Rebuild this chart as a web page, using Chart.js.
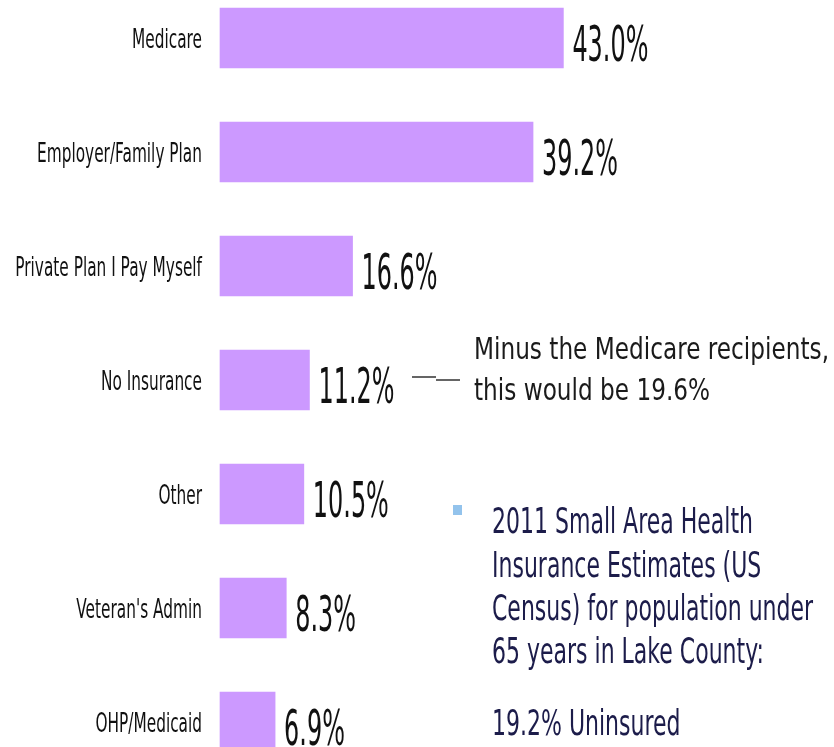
<!DOCTYPE html>
<html>
<head>
<meta charset="utf-8">
<script src="https://cdn.jsdelivr.net/npm/chart.js@4/dist/chart.umd.min.js"></script>
<style>
  html, body { margin: 0; padding: 0; background: #fff; overflow: hidden; }
  #wrap { width: 834px; height: 747px; position: relative; }
</style>
</head>
<body>
<div id="wrap"><canvas id="myChart"></canvas></div>
<script>
const categories = ['Medicare', 'Employer/Family Plan', 'Private Plan I Pay Myself', 'No Insurance', 'Other', "Veteran's Admin", 'OHP/Medicaid'];
const percents = [43.0, 39.2, 16.6, 11.2, 10.5, 8.3, 6.9];
const noteLines = ['Minus the Medicare recipients,', 'this would be 19.6%'];
const censusLines = ['2011 Small Area Health', 'Insurance Estimates (US', 'Census) for population under', '65 years in Lake County:', '19.2% Uninsured'];

const FONT = '"DejaVu Sans", Verdana, sans-serif';

// squeeze factor so a string at a given size comes out at the width seen in the picture
function fitScale(ctx, text, size, width) {
    ctx.font = size + 'px ' + FONT;
    return width / ctx.measureText(text).width;
}

function drawText(ctx, text, x, y, size, sx, align, color) {
    ctx.save();
    ctx.translate(x, y);
    ctx.scale(sx, 1);
    ctx.font = size + 'px ' + FONT;
    ctx.textAlign = align;
    ctx.textBaseline = 'alphabetic';
    ctx.fillStyle = color;
    ctx.fillText(text, 0, 0);
    ctx.restore();
}

const textPlugin = {
    id: 'textPlugin',
    beforeDraw(chart) {
        const c = chart.ctx;
        c.save();
        c.fillStyle = '#fff';
        c.fillRect(0, 0, chart.width, chart.height);
        c.restore();
    },
    afterDraw(chart) {
        const ctx = chart.ctx;
        const y = chart.scales.y;
        const meta = chart.getDatasetMeta(0);

        const lsx = fitScale(ctx, 'Employer/Family Plan', 27, 165);
        const vsx = fitScale(ctx, '43.0%', 49, 76);

        for (let i = 0; i < categories.length; i++) {
            const yc = y.getPixelForValue(i);
            drawText(ctx, categories[i], 202, yc + 10, 27, lsx, 'right', '#111');
            const bar = meta.data[i];
            drawText(ctx, percents[i].toFixed(1) + '%', bar.x + 9, bar.y + 23, 49, vsx, 'left', '#111');
        }

        // note next to No Insurance
        const yn = y.getPixelForValue(3);
        ctx.save();
        ctx.strokeStyle = '#333';
        ctx.lineWidth = 1.5;
        ctx.beginPath();
        ctx.moveTo(412, yn - 3);
        ctx.lineTo(436, yn - 3);
        ctx.moveTo(436, yn);
        ctx.lineTo(460, yn);
        ctx.stroke();
        ctx.restore();

        const nsx = fitScale(ctx, noteLines[0], 30, 355);
        drawText(ctx, noteLines[0], 474, 359, 30, nsx, 'left', '#1a1a1a');
        drawText(ctx, noteLines[1], 474, 400, 30, nsx, 'left', '#1a1a1a');

        // census bullet
        ctx.fillStyle = '#93c3ec';
        ctx.fillRect(453, 505, 9, 10);
        const csx = fitScale(ctx, censusLines[0], 35, 261);
        const bases = [533, 577, 620, 663, 735];
        for (let k = 0; k < censusLines.length; k++) {
            drawText(ctx, censusLines[k], 492, bases[k], 35, csx, 'left', '#1c1c4a');
        }
    }
};

const ctx = document.getElementById('myChart');
new Chart(ctx, {
    type: 'bar',
    data: {
        labels: categories,
        datasets: [{
            data: percents,
            backgroundColor: '#cc99ff',
            borderWidth: 0,
            barThickness: 60,
            clip: false
        }]
    },
    options: {
        indexAxis: 'y',
        responsive: true,
        maintainAspectRatio: false,
        animation: false,
        layout: { padding: { left: 220, right: 55, top: 38, bottom: 25 } },
        plugins: { legend: { display: false }, tooltip: { enabled: false } },
        scales: {
            x: { display: false, min: 0, max: 70 },
            y: { display: false, offset: false }
        }
    },
    plugins: [textPlugin]
});
</script>
</body>
</html>
